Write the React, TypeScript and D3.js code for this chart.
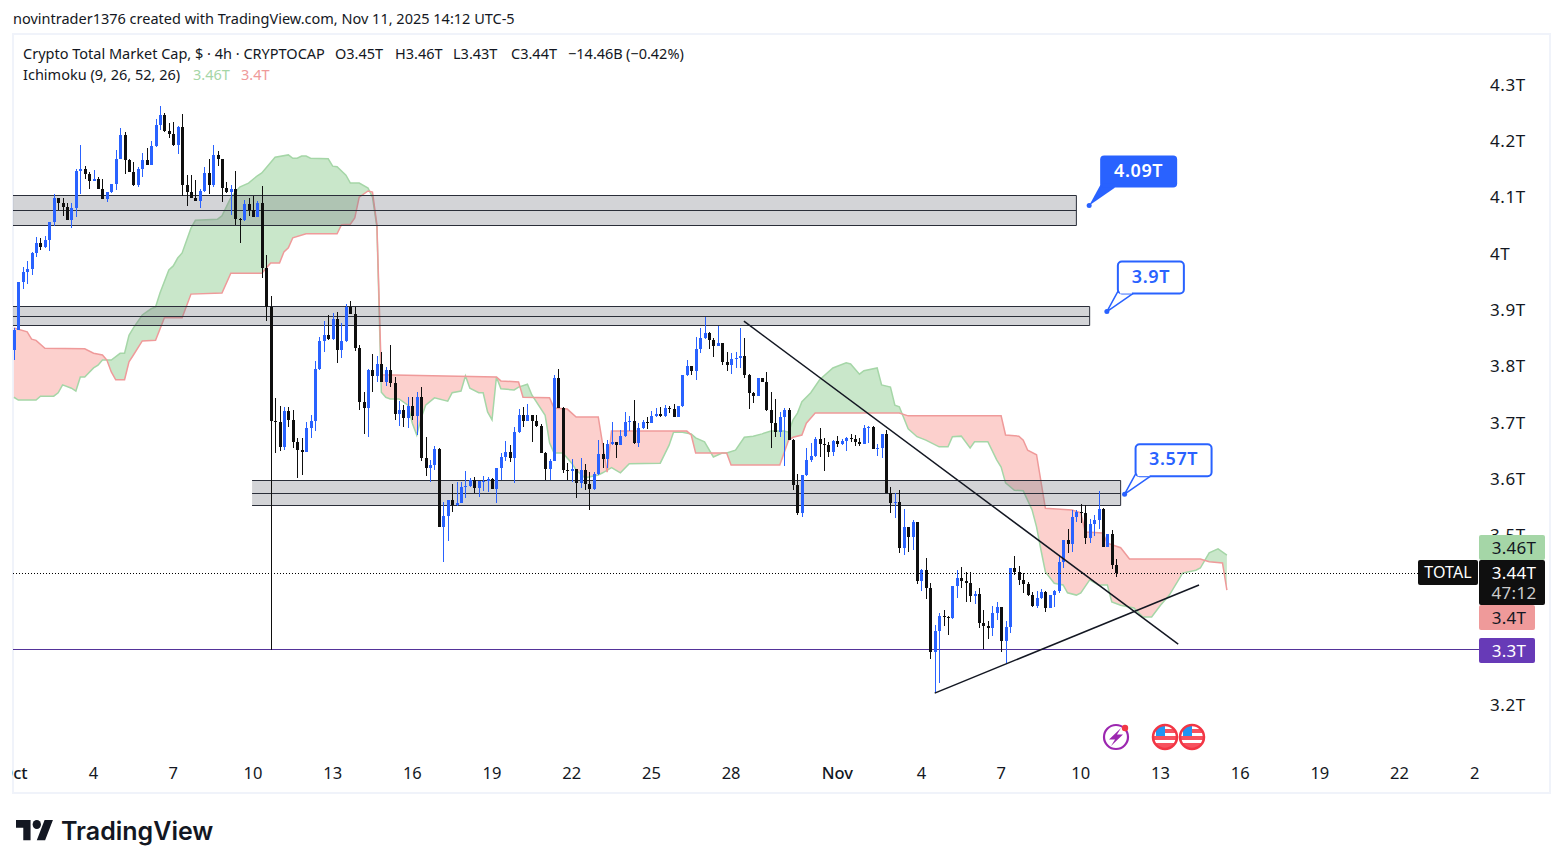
import { useEffect, useRef } from "react";
import * as d3 from "d3";

// Candles, in trillions. Each open is the close of the bar before it.
const firstOpen = 3.83;
const closes = [
  3.865,3.950,3.968,3.973,4.002,4.020,4.013,4.025,4.057,4.099,
  4.091,4.083,4.061,4.082,4.147,4.151,4.142,4.130,4.133,4.116,
  4.098,4.110,4.124,4.169,4.211,4.167,4.146,4.123,4.151,4.167,
  4.158,4.192,4.229,4.247,4.218,4.213,4.194,4.225,4.123,4.110,
  4.099,4.094,4.112,4.144,4.123,4.176,4.169,4.117,4.110,4.116,
  4.062,4.061,4.089,4.078,4.066,4.091,3.975,3.906,3.704,3.702,
  3.658,3.722,3.706,3.667,3.652,3.649,3.691,3.704,3.796,3.846,
  3.856,3.849,3.885,3.830,3.846,3.906,3.894,3.833,3.738,3.727,
  3.794,3.784,3.805,3.773,3.794,3.771,3.716,3.723,3.709,3.730,
  3.713,3.746,3.638,3.620,3.626,3.654,3.516,3.535,3.564,3.555,
  3.558,3.587,3.589,3.599,3.585,3.597,3.598,3.601,3.583,3.620,
  3.640,3.649,3.638,3.684,3.715,3.704,3.715,3.704,3.695,3.647,
  3.619,3.633,3.780,3.727,3.617,3.615,3.619,3.594,3.617,3.592,
  3.583,3.610,3.645,3.636,3.663,3.667,3.661,3.677,3.702,3.704,
  3.665,3.691,3.702,3.700,3.713,3.716,3.713,3.727,3.725,3.711,
  3.730,3.786,3.801,3.793,3.832,3.851,3.860,3.848,3.837,3.842,
  3.809,3.803,3.814,3.816,3.819,3.786,3.754,3.748,3.780,3.773,
  3.723,3.700,3.684,3.711,3.723,3.670,3.590,3.541,3.608,3.635,
  3.642,3.672,3.663,3.661,3.649,3.668,3.663,3.668,3.674,3.672,
  3.667,3.663,3.691,3.693,3.654,3.656,3.681,3.576,3.558,3.560,
  3.478,3.516,3.498,3.525,3.420,3.439,3.408,3.294,3.331,3.358,
  3.356,3.354,3.411,3.425,3.420,3.416,3.393,3.397,3.345,3.340,
  3.337,3.363,3.374,3.314,3.338,3.443,3.436,3.422,3.415,3.395,
  3.376,3.390,3.400,3.372,3.395,3.402,3.454,3.493,3.486,3.534,
  3.542,3.541,3.496,3.521,3.528,3.548,3.480,3.503,3.448,3.434,
];
const highs = [
  3.869,3.950,3.977,3.988,4.004,4.030,4.028,4.032,4.057,4.107,
  4.099,4.099,4.091,4.091,4.151,4.194,4.156,4.146,4.149,4.137,
  4.133,4.110,4.124,4.185,4.224,4.217,4.169,4.163,4.155,4.179,
  4.188,4.201,4.240,4.263,4.250,4.233,4.234,4.227,4.249,4.140,
  4.140,4.131,4.116,4.155,4.169,4.194,4.183,4.169,4.128,4.123,
  4.147,4.064,4.096,4.099,4.103,4.094,4.121,3.998,3.926,3.745,
  3.730,3.729,3.729,3.723,3.674,3.674,3.702,3.714,3.810,3.853,
  3.881,3.892,3.895,3.897,3.878,3.911,3.917,3.906,3.839,3.755,
  3.796,3.823,3.819,3.826,3.800,3.839,3.782,3.739,3.732,3.746,
  3.746,3.755,3.764,3.675,3.635,3.660,3.656,3.560,3.564,3.592,
  3.596,3.596,3.615,3.603,3.604,3.597,3.606,3.604,3.603,3.620,
  3.647,3.668,3.661,3.693,3.725,3.729,3.734,3.715,3.715,3.698,
  3.649,3.636,3.786,3.796,3.729,3.629,3.636,3.619,3.638,3.628,
  3.613,3.613,3.670,3.665,3.670,3.702,3.667,3.688,3.720,3.713,
  3.741,3.700,3.706,3.711,3.722,3.727,3.729,3.732,3.730,3.734,
  3.730,3.786,3.812,3.801,3.853,3.869,3.888,3.862,3.851,3.872,
  3.842,3.826,3.825,3.826,3.869,3.851,3.787,3.755,3.780,3.780,
  3.791,3.755,3.743,3.720,3.727,3.727,3.672,3.610,3.608,3.656,
  3.665,3.675,3.691,3.674,3.667,3.670,3.677,3.672,3.675,3.681,
  3.679,3.674,3.697,3.695,3.695,3.663,3.681,3.688,3.587,3.576,
  3.581,3.548,3.516,3.528,3.525,3.441,3.461,3.416,3.342,3.363,
  3.368,3.358,3.411,3.439,3.445,3.436,3.436,3.402,3.408,3.368,
  3.349,3.376,3.383,3.374,3.349,3.443,3.464,3.447,3.434,3.418,
  3.401,3.402,3.406,3.402,3.395,3.404,3.466,3.493,3.512,3.546,
  3.546,3.557,3.555,3.530,3.537,3.580,3.549,3.503,3.510,3.459,
];
const lows = [
  3.812,3.865,3.938,3.947,3.963,3.995,4.007,4.011,4.005,4.050,
  4.078,4.068,4.061,4.046,4.066,4.107,4.133,4.116,4.130,4.116,
  4.098,4.092,4.108,4.114,4.169,4.142,4.146,4.121,4.119,4.137,
  4.158,4.158,4.190,4.220,4.217,4.206,4.192,4.178,4.103,4.085,
  4.099,4.094,4.082,4.110,4.107,4.119,4.156,4.092,4.108,4.069,
  4.052,4.020,4.059,4.068,4.066,4.066,3.958,3.881,3.298,3.647,
  3.651,3.652,3.693,3.656,3.603,3.608,3.649,3.674,3.686,3.794,
  3.826,3.847,3.847,3.807,3.816,3.844,3.894,3.828,3.723,3.681,
  3.675,3.755,3.773,3.773,3.766,3.764,3.706,3.695,3.693,3.691,
  3.706,3.679,3.633,3.606,3.596,3.617,3.516,3.454,3.491,3.542,
  3.553,3.558,3.567,3.587,3.576,3.569,3.580,3.578,3.583,3.558,
  3.599,3.633,3.631,3.594,3.683,3.693,3.704,3.667,3.693,3.647,
  3.599,3.599,3.633,3.727,3.612,3.599,3.596,3.567,3.585,3.581,
  3.546,3.581,3.608,3.620,3.620,3.661,3.638,3.661,3.675,3.686,
  3.663,3.658,3.690,3.690,3.700,3.711,3.711,3.711,3.718,3.711,
  3.711,3.729,3.784,3.786,3.777,3.824,3.849,3.832,3.817,3.837,
  3.803,3.793,3.787,3.798,3.798,3.780,3.725,3.736,3.748,3.773,
  3.722,3.656,3.675,3.675,3.624,3.670,3.581,3.537,3.534,3.606,
  3.631,3.640,3.640,3.615,3.640,3.642,3.658,3.661,3.651,3.667,
  3.660,3.660,3.663,3.665,3.654,3.642,3.638,3.576,3.541,3.532,
  3.470,3.466,3.471,3.475,3.415,3.402,3.388,3.282,3.221,3.239,
  3.340,3.324,3.353,3.390,3.408,3.383,3.383,3.379,3.337,3.299,
  3.317,3.322,3.351,3.294,3.274,3.328,3.431,3.413,3.399,3.393,
  3.374,3.372,3.388,3.365,3.372,3.374,3.399,3.443,3.470,3.471,
  3.525,3.523,3.486,3.487,3.500,3.512,3.480,3.480,3.441,3.427,
];

// Ichimoku leading spans, read at their corners
const spanABars = [
  0,1,5,6,9,10,11,13,14,15,16,18,19,20,22,24,25,26,27,29,31,32,33,35,36,37,38,40,41,46,47,49,51,53,55,56,59,62,63,64,65,66,67,71,72,73,75,76,78,80,81,82,83,84,85,87,89,90,91,92,93,95,98,99,101,102,103,105,106,107,108,109,110,113,114,116,117,120,121,122,124,126,127,129,132,133,135,137,139,146,148,149,151,153,154,156,158,160,161,163,165,167,169,171,174,175,176,177,178,180,182,185,188,189,191,192,195,196,198,199,200,202,204,206,209,211,212,214,216,217,220,222,223,224,226,228,230,231,232,233,235,237,238,240,241,243,245,247,248,250,253,255,257,259,261,264,267,268,270,272,274,
];
const spanAValues = [
  3.746,3.741,3.741,3.748,3.748,3.754,3.768,3.762,3.757,3.782,3.782,3.798,3.803,3.812,3.812,3.824,3.824,3.856,3.869,3.892,3.903,3.906,3.931,3.972,3.979,3.993,4.002,4.046,4.060,4.062,4.068,4.100,4.119,4.126,4.139,4.144,4.172,4.176,4.170,4.170,4.174,4.174,4.170,4.169,4.156,4.155,4.140,4.126,4.126,4.117,4.101,4.048,3.755,3.746,3.743,3.743,3.732,3.700,3.679,3.709,3.732,3.745,3.739,3.754,3.757,3.784,3.762,3.754,3.754,3.720,3.706,3.782,3.761,3.759,3.764,3.769,3.750,3.714,3.665,3.647,3.647,3.629,3.617,3.603,3.608,3.612,3.621,3.612,3.628,3.629,3.661,3.684,3.684,3.681,3.674,3.667,3.640,3.647,3.647,3.652,3.675,3.677,3.681,3.686,3.686,3.684,3.706,3.718,3.738,3.754,3.777,3.798,3.807,3.805,3.787,3.793,3.798,3.768,3.764,3.732,3.729,3.690,3.676,3.670,3.658,3.658,3.676,3.677,3.656,3.667,3.667,3.635,3.622,3.594,3.581,3.580,3.546,3.516,3.475,3.436,3.416,3.413,3.399,3.395,3.399,3.422,3.413,3.413,3.383,3.377,3.372,3.356,3.356,3.377,3.395,3.434,3.439,3.443,3.470,3.477,3.466,
];
const spanBBars = [
  0,3,4,5,7,16,18,20,21,22,23,25,26,27,29,32,34,38,40,47,49,56,58,60,61,62,63,66,73,74,76,77,78,80,81,82,83,109,110,114,115,121,122,125,127,132,134,135,152,153,154,161,162,173,175,176,178,179,181,200,202,223,224,227,228,229,231,233,239,241,242,246,247,250,252,268,270,273,274,
];
const spanBValues = [
  3.869,3.862,3.849,3.847,3.833,3.832,3.824,3.821,3.812,3.791,3.777,3.777,3.809,3.821,3.846,3.847,3.887,3.887,3.929,3.931,3.966,3.966,3.984,3.984,4.004,4.011,4.029,4.036,4.036,4.052,4.053,4.064,4.101,4.112,4.110,4.052,3.786,3.782,3.775,3.773,3.746,3.745,3.727,3.725,3.711,3.711,3.613,3.686,3.686,3.679,3.647,3.647,3.626,3.626,3.670,3.675,3.679,3.700,3.718,3.718,3.713,3.713,3.679,3.677,3.670,3.652,3.644,3.549,3.546,3.541,3.507,3.505,3.487,3.479,3.459,3.459,3.454,3.452,3.404,
];

// 3.4T and 3.3T sit wholly under the axis labels, so they are not drawn
const priceTicks = [4.3, 4.2, 4.1, 4, 3.9, 3.8, 3.7, 3.6, 3.5, 3.2];
// bar index of each date label; the clocks change on Nov 2, which adds a bar
const dateBars = [0, 18, 36, 54, 72, 90, 108, 126, 144, 162, 186, 205, 223, 241, 259, 277, 295, 313, 330];
const dateLabels = ["Oct", "4", "7", "10", "13", "16", "19", "22", "25", "28", "Nov", "4", "7", "10", "13", "16", "19", "22", "2"];
const monthLabels = ["Oct", "Nov"];

const zoneStartBars = [-2, -2, 53.8];
const zoneEndBars = [240, 243, 250];
const zoneTops = [4.105, 3.908, 3.599];
const zoneMids = [4.078, 3.891, 3.576];
const zoneBottoms = [4.052, 3.875, 3.554];

const calloutTexts = ["4.09T", "3.9T", "3.57T"];
const calloutBars = [243, 247, 251];
const calloutPrices = [4.086, 3.898, 3.574];
const calloutWidths = [77, 66, 76];
const calloutFilled = [true, false, false];

const fallingLineBars = [164.9, 263];
const fallingLinePrices = [3.881, 3.308];
const risingLineBars = [208, 267.7];
const risingLinePrices = [3.221, 3.413];

const lastPrice = 3.434;
const lowLevel = 3.3;

const FONT = "'Noto Sans', sans-serif";
const INK = "#131722";
const BLUE = "#2962ff";
const CANDLE_BLACK = "#0f0f0f";

const App = () => {
  const ref = useRef<SVGSVGElement | null>(null);

  useEffect(() => {
    const svg = d3.select(ref.current);
    svg.selectAll("*").remove();

    const width = 1563;
    const height = 868;
    const plotLeft = 13;
    const plotRight = 1479;

    const x = d3.scaleLinear().domain([0, 1]).range([13.9, 18.327]);
    const y = d3.scaleLinear().domain([3.2, 4.3]).range([705, 85]);

    const text = (
      parent: any,
      tx: number,
      ty: number,
      label: string,
      size: number,
      fill: string = INK,
      anchor: string = "start",
      weight: number = 400,
      spacing: number = 0
    ) =>
      parent
        .append("text")
        .attr("x", tx)
        .attr("y", ty - 1)
        .attr("font-family", FONT)
        .attr("font-size", size)
        .attr("font-weight", weight)
        .attr("letter-spacing", spacing)
        .attr("fill", fill)
        .attr("text-anchor", anchor)
        .attr("dominant-baseline", "central")
        .text(label);

    svg.append("rect").attr("width", width).attr("height", height).attr("fill", "#fff");

    // frame round the chart
    svg
      .append("rect")
      .attr("x", 13)
      .attr("y", 34)
      .attr("width", 1537)
      .attr("height", 759)
      .attr("fill", "none")
      .attr("stroke", "#f0f3fa")
      .attr("stroke-width", 2);

    svg
      .append("defs")
      .append("clipPath")
      .attr("id", "plot")
      .append("rect")
      .attr("x", plotLeft)
      .attr("y", 35)
      .attr("width", plotRight - plotLeft)
      .attr("height", 715);

    const plot = svg.append("g").attr("clip-path", "url(#plot)");

    // Cloud: the two spans are resampled so that the colour can flip at a crossing
    const spanA = d3.scaleLinear().domain(spanABars).range(spanAValues);
    const spanB = d3.scaleLinear().domain(spanBBars).range(spanBValues);
    const grid = d3.range(0, 274.01, 0.25);

    const greenArea = d3
      .area<number>()
      .x((b) => x(b))
      .y0((b) => y(spanB(b)))
      .y1((b) => y(Math.max(spanA(b), spanB(b))));
    const redArea = d3
      .area<number>()
      .x((b) => x(b))
      .y0((b) => y(spanB(b)))
      .y1((b) => y(Math.min(spanA(b), spanB(b))));

    plot.append("path").attr("d", greenArea(grid)).attr("fill", "#4caf50").attr("fill-opacity", 0.3);
    plot.append("path").attr("d", redArea(grid)).attr("fill", "#f44336").attr("fill-opacity", 0.25);

    plot
      .append("path")
      .attr("d", d3.line<number>().x((b) => x(b)).y((b) => y(spanA(b)))(spanABars))
      .attr("fill", "none")
      .attr("stroke", "#a5d6a7")
      .attr("stroke-width", 1.5);
    plot
      .append("path")
      .attr("d", d3.line<number>().x((b) => x(b)).y((b) => y(spanB(b)))(spanBBars))
      .attr("fill", "none")
      .attr("stroke", "#ef9a9a")
      .attr("stroke-width", 1.5);

    // Grey zones: no line down the left side
    zoneTops.forEach((top, i) => {
      const x0 = x(zoneStartBars[i]);
      const x1 = x(zoneEndBars[i]);
      const yTop = Math.round(y(top)) + 0.5;
      const yBottom = Math.round(y(zoneBottoms[i])) + 0.5;
      plot
        .append("rect")
        .attr("x", x0)
        .attr("y", yTop)
        .attr("width", x1 - x0)
        .attr("height", yBottom - yTop)
        .attr("fill", "#787b86")
        .attr("fill-opacity", 0.33);
      [yTop, Math.round(y(zoneMids[i])) + 0.5, yBottom].forEach((ly) => {
        plot
          .append("line")
          .attr("x1", x0)
          .attr("x2", x1)
          .attr("y1", ly)
          .attr("y2", ly)
          .attr("stroke", "#2a2e39")
          .attr("stroke-width", 1);
      });
      plot
        .append("line")
        .attr("x1", x1)
        .attr("x2", x1)
        .attr("y1", yTop)
        .attr("y2", yBottom)
        .attr("stroke", "#2a2e39")
        .attr("stroke-width", 1);
    });

    // Low level and last price
    plot
      .append("line")
      .attr("x1", plotLeft)
      .attr("x2", plotRight)
      .attr("y1", Math.round(y(lowLevel)) + 0.5)
      .attr("y2", Math.round(y(lowLevel)) + 0.5)
      .attr("stroke", "#533399")
      .attr("stroke-width", 1);
    svg
      .append("line")
      .attr("x1", plotLeft)
      .attr("x2", 1418)
      .attr("y1", Math.round(y(lastPrice)) + 0.5)
      .attr("y2", Math.round(y(lastPrice)) + 0.5)
      .attr("stroke", "#000")
      .attr("stroke-dasharray", "1 2")
      .attr("shape-rendering", "crispEdges");

    // Candles
    const opens = closes.map((_, i) => (i === 0 ? firstOpen : closes[i - 1]));
    const candles = plot.append("g").attr("shape-rendering", "crispEdges");
    closes.forEach((close, i) => {
      const open = opens[i];
      const color = close > open ? BLUE : CANDLE_BLACK;
      const cx = Math.round(x(i));
      const bodyTop = Math.round(y(Math.max(open, close)));
      const bodyBottom = Math.round(y(Math.min(open, close)));
      const wickTop = Math.round(y(Math.max(highs[i], open, close)));
      const wickBottom = Math.round(y(Math.min(lows[i], open, close)));
      candles
        .append("rect")
        .attr("x", cx)
        .attr("y", wickTop)
        .attr("width", 1)
        .attr("height", Math.max(1, wickBottom - wickTop))
        .attr("fill", color);
      candles
        .append("rect")
        .attr("x", cx - 1)
        .attr("y", bodyTop)
        .attr("width", 3)
        .attr("height", Math.max(1, bodyBottom - bodyTop))
        .attr("fill", color);
    });

    // Trend lines
    [
      [fallingLineBars, fallingLinePrices],
      [risingLineBars, risingLinePrices],
    ].forEach(([bars, prices]) => {
      svg
        .append("line")
        .attr("x1", x(bars[0]))
        .attr("y1", y(prices[0]))
        .attr("x2", x(bars[1]))
        .attr("y2", y(prices[1]))
        .attr("stroke", INK)
        .attr("stroke-width", 1.5);
    });

    // Callouts with their tails
    calloutTexts.forEach((label, i) => {
      const ax = x(calloutBars[i]) - 0.5;
      const ay = y(calloutPrices[i]);
      const g = svg.append("g");
      const left = ax + 11;
      const bottom = ay - 18;
      const w = calloutWidths[i];
      const filled = calloutFilled[i];
      g.append("path")
        .attr("d", `M${ax},${ay}L${left + 1},${bottom - 4}L${left + 15},${bottom}Z`)
        .attr("fill", filled ? BLUE : "#fff")
        .attr("stroke", BLUE)
        .attr("stroke-width", filled ? 0 : 1.5)
        .attr("stroke-linejoin", "round");
      g.append("rect")
        .attr("x", left)
        .attr("y", bottom - 32)
        .attr("width", w)
        .attr("height", 32)
        .attr("rx", 4)
        .attr("fill", filled ? BLUE : "#fff")
        .attr("stroke", BLUE)
        .attr("stroke-width", filled ? 0 : 2);
      g.append("rect")
        .attr("x", left + 2)
        .attr("y", bottom - 4)
        .attr("width", 12)
        .attr("height", 4)
        .attr("fill", filled ? BLUE : "#fff");
      g.append("circle").attr("cx", ax).attr("cy", ay).attr("r", 2.5).attr("fill", BLUE);
      text(g, left + w / 2, bottom - 17, label, 18, filled ? "#fff" : BLUE, "middle", 600, 0.6);
    });

    // Price axis
    priceTicks.forEach((t) => text(svg, 1490, y(t), `${t}T`, 17, INK, "start", 400, 0.6));

    // Date axis
    svg
      .select("defs")
      .append("clipPath")
      .attr("id", "dates")
      .append("rect")
      .attr("x", 12)
      .attr("y", 750)
      .attr("width", 60)
      .attr("height", 40);
    dateBars.forEach((b, i) => {
      const label = dateLabels[i];
      const weight = monthLabels.includes(label) ? 500 : 400;
      const node = text(svg, x(b), 773, label, 16.5, INK, "middle", weight);
      if (i === 0) node.attr("clip-path", "url(#dates)");
    });

    // Price labels on the axis
    const labelRect = (lx: number, ly: number, w: number, h: number, fill: string) =>
      svg.append("rect").attr("x", lx).attr("y", ly).attr("width", w).attr("height", h).attr("rx", 2).attr("fill", fill);

    labelRect(1479, 535, 66, 25, "#a5d6a7");
    text(svg, 1514, 548, "3.46T", 17, INK, "middle", 400, 0.3);
    labelRect(1479, 605, 56, 25, "#ef9a9a");
    text(svg, 1509, 618, "3.4T", 17, INK, "middle", 400, 0.3);
    labelRect(1479, 560, 66, 45, "#0f0f0f");
    text(svg, 1514, 573, "3.44T", 17, "#fff", "middle", 400, 0.3);
    text(svg, 1514, 593, "47:12", 17, "#ccc", "middle", 400, 0.3);
    labelRect(1479, 638, 56, 25, "#673ab7");
    text(svg, 1509, 651, "3.3T", 17, "#fff", "middle", 400, 0.3);
    labelRect(1418, 560, 60, 25, "#0f0f0f");
    text(svg, 1448, 573, "TOTAL", 16, "#fff", "middle", 400, 0.1);

    // Legend and header
    text(svg, 13, 19, "novintrader1376 created with TradingView.com, Nov 11, 2025 14:12 UTC-5", 14.5);
    text(svg, 23, 54, "Crypto Total Market Cap, $ · 4h · CRYPTOCAP", 14.5);
    text(svg, 335, 54, "O3.45T", 14.5);
    text(svg, 395, 54, "H3.46T", 14.5);
    text(svg, 453, 54, "L3.43T", 14.5);
    text(svg, 511, 54, "C3.44T", 14.5);
    text(svg, 568, 54, "−14.46B", 14.5);
    text(svg, 626, 54, "(−0.42%)", 14.5);
    text(svg, 23, 75, "Ichimoku (9, 26, 52, 26)", 14.5);
    text(svg, 193, 75, "3.46T", 14.5, "#a5d6a7");
    text(svg, 241, 75, "3.4T", 14.5, "#ef9a9a");

    // Event marks under the candles
    const flash = svg.append("g").attr("transform", "translate(1116,737)");
    flash.append("circle").attr("r", 12).attr("fill", "#fff").attr("stroke", "#9c27b0").attr("stroke-width", 2.2);
    flash.append("path").attr("d", "M5,-9L-7,2.5L-1,2.5L-5,9L7,-2.5L1,-2.5Z").attr("fill", "#9c27b0");
    flash.append("circle").attr("cx", 9).attr("cy", -9).attr("r", 3.2).attr("fill", "#f23645");

    [1165, 1192].forEach((cx, i) => {
      const id = `flag${i}`;
      svg
        .select("defs")
        .append("clipPath")
        .attr("id", id)
        .append("circle")
        .attr("r", 11.5);
      const g = svg.append("g").attr("transform", `translate(${cx},737)`);
      const inner = g.append("g").attr("clip-path", `url(#${id})`);
      inner.append("rect").attr("x", -12).attr("y", -12).attr("width", 24).attr("height", 24).attr("fill", "#fff");
      inner.append("rect").attr("x", 0).attr("y", -8).attr("width", 12).attr("height", 4).attr("fill", "#f7525f");
      inner.append("rect").attr("x", -12).attr("y", -1).attr("width", 24).attr("height", 4).attr("fill", "#f7525f");
      inner.append("rect").attr("x", -12).attr("y", 6).attr("width", 24).attr("height", 6).attr("fill", "#f7525f");
      inner.append("rect").attr("x", -9).attr("y", -12).attr("width", 9).attr("height", 11).attr("fill", "#2196f3");
      g.append("circle").attr("r", 12).attr("fill", "none").attr("stroke", "#f23645").attr("stroke-width", 2.5);
    });

    // TradingView logo
    const logo = svg.append("g").attr("transform", "translate(16,815.5) scale(1.04,1.12)");
    logo.append("path").attr("d", "M14 22H7V11H0V4h14v18zM28 22h-8l7.5-18h8L28 22z").attr("fill", INK);
    logo.append("circle").attr("cx", 20).attr("cy", 8).attr("r", 4).attr("fill", INK);
    svg
      .append("text")
      .attr("x", 61)
      .attr("y", 831)
      .attr("font-family", "Inter, sans-serif")
      .attr("font-size", 25)
      .attr("font-weight", 600)
      .attr("fill", INK)
      .attr("dominant-baseline", "central")
      .text("TradingView");
  }, []);

  return (
    <svg
      ref={ref}
      width={1563}
      height={868}
      style={{ position: "absolute", top: 0, left: 0, display: "block" }}
    />
  );
};

export default App;
